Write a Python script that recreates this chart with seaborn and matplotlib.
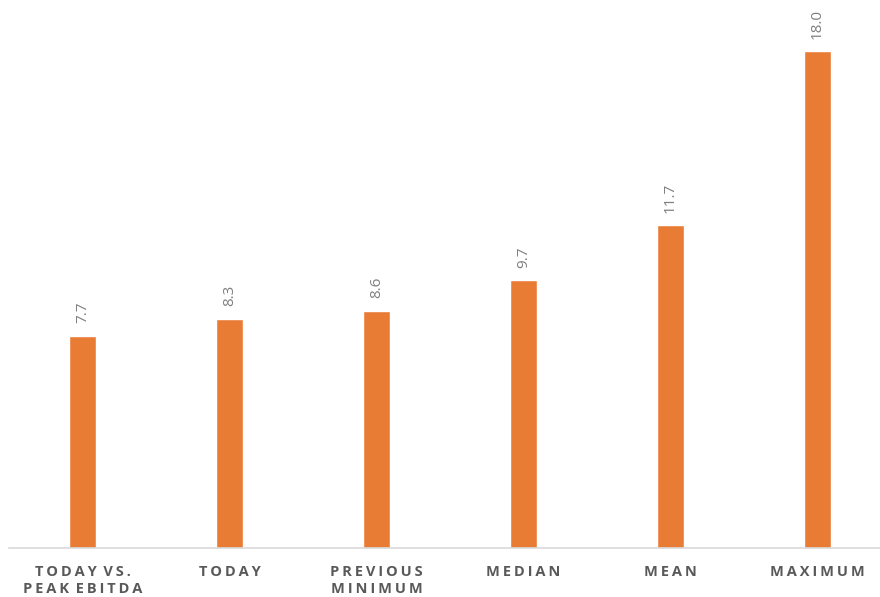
import matplotlib
matplotlib.use("Agg")
import matplotlib.pyplot as plt
import seaborn as sns
import pandas as pd

# chart data
categories = ["TODAY VS.\nPEAK EBITDA", "TODAY", "PREVIOUS\nMINIMUM", "MEDIAN", "MEAN", "MAXIMUM"]
values = [7.7, 8.3, 8.6, 9.7, 11.7, 18.0]

BAR_COLOR = "#E97C35"
LABEL_GRAY = "#595959"
VALUE_GRAY = "#7F7F7F"


def tracked(text, gap="\u2009"):
    """Fake letter spacing by putting thin spaces between characters."""
    lines = []
    for line in text.split("\n"):
        words = [gap.join(w) for w in line.split(" ")]
        lines.append((gap + " ").join(words))
    return "\n".join(lines)


sns.set_theme(style="white")
plt.rcParams["font.family"] = ["Open Sans", "DejaVu Sans"]

df = pd.DataFrame({"category": categories, "value": values})

fig = plt.figure(figsize=(8.8, 5.97), dpi=100)
ax = fig.add_axes([9 / 880, 1 - 548 / 597, 871 / 880, 548 / 597])

sns.barplot(data=df, x="category", y="value", color=BAR_COLOR, width=0.18,
            saturation=1, ax=ax)

ax.set_xlim(-0.5, 5.425)
ax.set_ylim(0, 19.86)

# value labels on top of bars
for cont in ax.containers:
    ax.bar_label(cont, labels=[f"{v:.1f}" for v in values], rotation=90,
                 padding=9, color=VALUE_GRAY, fontsize=11)

ax.set_xlabel("")
ax.set_ylabel("")
ax.set_yticks([])
ax.set_xticks(range(len(categories)))
ax.set_xticklabels([tracked(c) for c in categories], fontsize=10.5,
                   fontweight="bold", color=LABEL_GRAY, linespacing=1.3)
ax.tick_params(axis="x", length=0, pad=12)

for side in ["top", "right", "left"]:
    ax.spines[side].set_visible(False)
ax.spines["bottom"].set_color("#D9D9D9")
ax.spines["bottom"].set_linewidth(1.2)

fig.savefig("out.png", dpi=100)
